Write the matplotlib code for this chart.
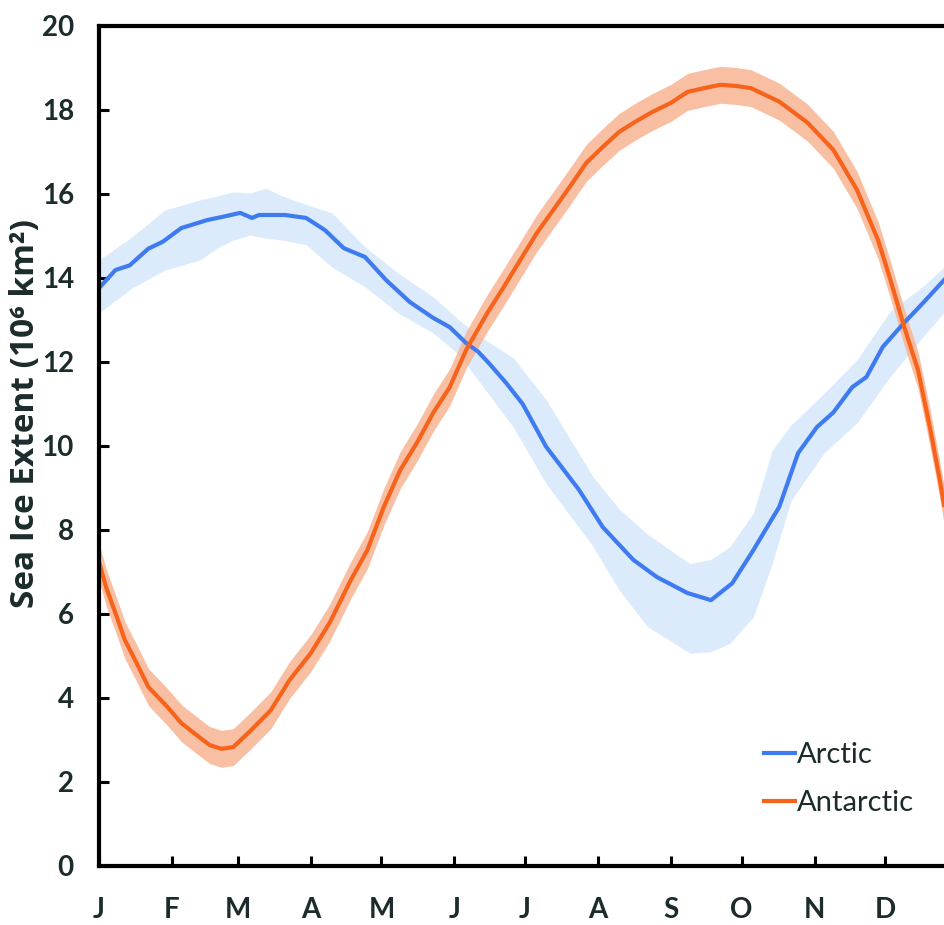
import matplotlib.pyplot as plt

# x positions are day of year
arctic_days = [0, 7, 13, 21, 27, 35, 46, 52, 60, 65, 68, 79, 88, 96, 104, 113, 122,
               132, 142, 149, 156, 161, 166, 173, 180, 190, 204, 214, 227, 237, 250,
               260, 269, 278, 289, 297, 305, 312, 320, 326, 333, 342, 350, 359]
arctic = [13.76, 14.19, 14.3, 14.7, 14.86, 15.19, 15.38, 15.45, 15.55, 15.43, 15.5,
          15.5, 15.43, 15.14, 14.71, 14.5, 13.95, 13.43, 13.05, 12.83, 12.45, 12.25,
          11.95, 11.5, 11.0, 9.98, 8.95, 8.07, 7.29, 6.88, 6.5, 6.33, 6.73, 7.52,
          8.55, 9.83, 10.45, 10.8, 11.4, 11.64, 12.36, 12.93, 13.4, 13.95]

arctic_band_days = [0, 14, 28, 43, 50, 57, 64, 71, 78, 88, 99, 113, 127, 142, 153,
                    162, 176, 190, 210, 221, 233, 251, 260, 268, 278, 286, 294, 308,
                    322, 336, 350, 359]
arctic_upper = [14.43, 14.98, 15.62, 15.86, 15.95, 16.05, 16.02, 16.14, 15.95, 15.75,
                15.55, 14.74, 14.12, 13.55, 13.0, 12.6, 12.1, 11.1, 9.26, 8.5, 7.9,
                7.2, 7.3, 7.6, 8.4, 9.9, 10.5, 11.25, 12.05, 13.2, 13.8, 14.26]
arctic_lower = [13.17, 13.76, 14.19, 14.43, 14.71, 14.9, 15.02, 14.95, 14.9, 14.79,
                14.26, 13.79, 13.17, 12.69, 12.17, 11.5, 10.45, 9.1, 7.6, 6.57, 5.7,
                5.07, 5.1, 5.3, 5.93, 7.2, 8.7, 9.83, 10.55, 11.64, 12.6, 13.17]

antarctic_days = [0, 3, 7, 11, 16, 21, 29, 35, 43, 47, 52, 57, 64, 73, 81, 90, 98,
                  107, 114, 121, 128, 135, 142, 149, 156, 165, 172, 179, 186, 193,
                  200, 207, 214, 221, 229, 235, 243, 250, 257, 264, 271, 277, 289,
                  301, 312, 322, 331, 336, 342, 348, 353, 357, 359]
antarctic = [7.24, 6.64, 6.02, 5.38, 4.83, 4.26, 3.79, 3.4, 3.05, 2.88, 2.79, 2.83,
             3.2, 3.71, 4.43, 5.07, 5.79, 6.81, 7.52, 8.55, 9.43, 10.07, 10.79, 11.4,
             12.29, 13.17, 13.79, 14.43, 15.07, 15.62, 16.17, 16.74, 17.12, 17.48,
             17.76, 17.95, 18.17, 18.43, 18.52, 18.6, 18.57, 18.52, 18.2, 17.7, 17.05,
             16.1, 14.9, 14.0, 12.85, 11.8, 10.45, 9.26, 8.6]
antarctic_spread = 0.44

month_days = [0, 31, 59, 90, 120, 151, 181, 212, 243, 273, 304, 334]
month_labels = ['J', 'F', 'M', 'A', 'M', 'J', 'J', 'A', 'S', 'O', 'N', 'D']

plt.rcParams['font.family'] = ['Lato', 'DejaVu Sans']
text_color = '#1c2b2b'

fig = plt.figure(figsize=(9.44, 9.25), dpi=100)
ax = fig.add_axes([99 / 944, 59 / 925, 845 / 944, 840 / 925])

ax.fill_between(arctic_band_days, arctic_lower, arctic_upper, color='#dcebfc', lw=0)
ax.fill_between(antarctic_days,
                [v - antarctic_spread for v in antarctic],
                [v + antarctic_spread for v in antarctic],
                color='#f8b493', alpha=0.85, lw=0)
ax.plot(arctic_days, arctic, color='#3f7bf0', lw=3, label='Arctic')
ax.plot(antarctic_days, antarctic, color='#f7631b', lw=3, label='Antarctic')

ax.set_xlim(0, 359)
ax.set_ylim(0, 20)
ax.set_yticks(range(0, 21, 2))
ax.set_xticks(month_days)
ax.set_xticklabels(month_labels)

for s in ['left', 'bottom', 'top']:
    ax.spines[s].set_linewidth(3)
ax.spines['right'].set_visible(False)
ax.tick_params(axis='both', direction='in', length=7, width=2.2,
               labelsize=20, labelcolor=text_color)
ax.tick_params(axis='x', pad=22)
ax.tick_params(axis='y', pad=18)
for lbl in ax.get_xticklabels() + ax.get_yticklabels():
    lbl.set_fontweight('bold')

ax.set_ylabel('Sea Ice Extent (10⁶ km²)', fontsize=24, fontweight='bold',
              color=text_color, family=['Open Sans', 'DejaVu Sans'])
ax.yaxis.set_label_coords(-0.068, 0.539)

leg = ax.legend(loc='upper left', bbox_to_anchor=(0.77, 0.165), frameon=False,
                borderpad=0, fontsize=21, handlelength=1.05, handletextpad=0.07,
                labelspacing=0.75)
for t in leg.get_texts():
    t.set_color(text_color)

plt.savefig('out.png', dpi=100)
